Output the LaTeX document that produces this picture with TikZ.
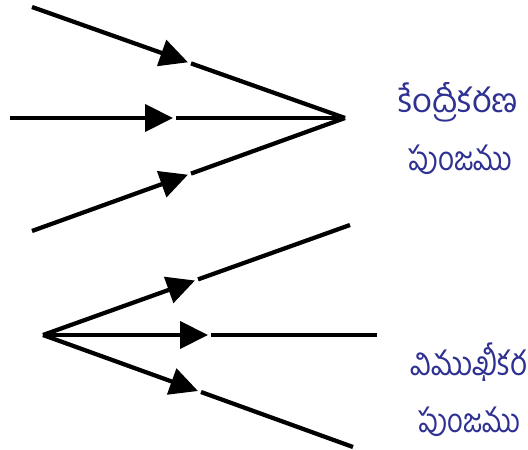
\documentclass[tikz,border=0pt]{standalone}
\usepackage{graphicx}
\usepackage{fontspec}
\newfontfamily\telugu[Script=Telugu]{Hind Guntur}
\usetikzlibrary{arrows.meta}
\definecolor{labelblue}{RGB}{46,49,146}
\newcommand\widelabel[2]{\resizebox{#1}{\height}{#2}}

\begin{document}
\begin{tikzpicture}[x=0.2mm,y=-0.2mm,
  ray/.style={line width=0.85mm},
  rayarr/.style={ray,-{Triangle[length=5.6mm,width=5.4mm]}},
  lbl/.style={text=labelblue,font=\telugu\fontsize{19}{22}\selectfont,inner sep=0pt,anchor=west}]
\useasboundingbox (0,0) rectangle (528,450);
% converging beam
\coordinate (F) at (345,118);
\coordinate (Ca) at (32,7);
\coordinate (Cb) at (10,118);
\coordinate (Cc) at (32,231);
\coordinate (Ma) at (188,62.3);
\coordinate (Mb) at (173,118);
\coordinate (Mc) at (188,174.7);
\coordinate (Na) at (191,63.4);
\coordinate (Nb) at (176,118);
\coordinate (Nc) at (191,173.6);
\draw[rayarr] (Ca)--(Ma);
\draw[ray] (Na)--(F);
\draw[rayarr] (Cb)--(Mb);
\draw[ray] (Nb)--(F);
\draw[rayarr] (Cc)--(Mc);
\draw[ray] (Nc)--(F);
% diverging beam
\coordinate (O) at (43,335);
\coordinate (Da) at (350,225);
\coordinate (Db) at (377,335);
\coordinate (Dc) at (353,447);
\coordinate (Pa) at (195,280.5);
\coordinate (Pb) at (208,335);
\coordinate (Pc) at (198,391);
\coordinate (Qa) at (198,279.4);
\coordinate (Qb) at (211,335);
\coordinate (Qc) at (201,392);
\draw[rayarr] (O)--(Pa);
\draw[ray] (Qa)--(Da);
\draw[rayarr] (O)--(Pb);
\draw[ray] (Qb)--(Db);
\draw[rayarr] (O)--(Pc);
\draw[ray] (Qc)--(Dc);
% labels
\node[lbl] (conv1) at (398,102) {\widelabel{23.8mm}{కేంద్రీకరణ}};
\node[lbl] (conv2) at (408,160) {\widelabel{20.8mm}{పుంజము}};
\node[lbl] (div1) at (410,362) {\widelabel{23.2mm}{విముఖీకర}};
\node[lbl,anchor=base west,text height=6mm,text depth=0pt] (div2) at (418,432) {\widelabel{20.4mm}{పుంజము}};
\end{tikzpicture}
\end{document}
